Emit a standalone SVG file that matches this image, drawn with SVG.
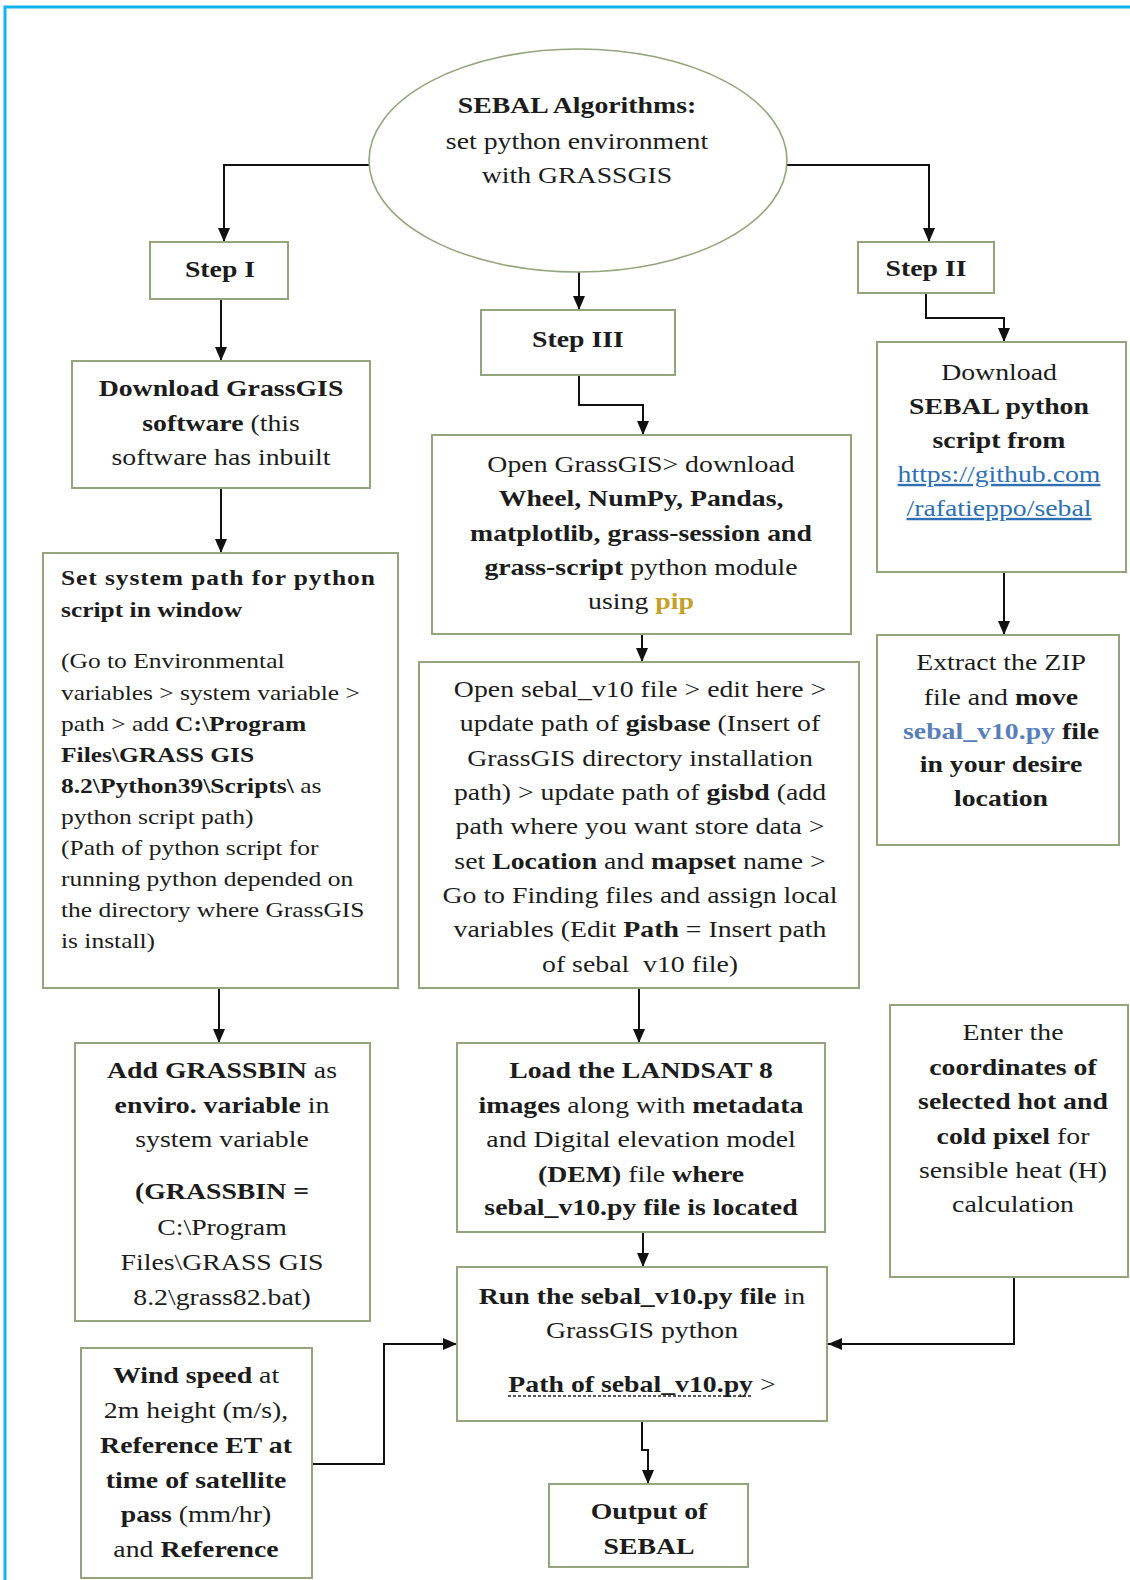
<svg xmlns="http://www.w3.org/2000/svg" width="1130" height="1580" viewBox="0 0 1130 1580">
<style>
.bx{fill:#ffffff;stroke:#93a57c;stroke-width:2}
.t{font-family:"Liberation Serif","Times New Roman",serif;font-size:24px;fill:#1c1c1c;text-anchor:middle}
.s{font-family:"Liberation Serif","Times New Roman",serif;font-size:22px;fill:#1c1c1c;text-anchor:start}
.b{font-weight:bold}
.c{fill:none;stroke:#111111;stroke-width:2}
.lnk{fill:#2f6fb3;text-decoration:underline}
</style>
<defs>
<marker id="ah" markerUnits="userSpaceOnUse" markerWidth="14" markerHeight="12" refX="14" refY="6" orient="auto">
<path d="M0,0 L14,6 L0,12 z" fill="#111111"/>
</marker>
</defs>
<rect x="0" y="0" width="1130" height="1580" fill="#ffffff"/>
<path d="M5,1580 V7 H1130" fill="none" stroke="#12b3ec" stroke-width="3"/>

<g id="connectors">
<path class="c" d="M369,165 H224 V242" marker-end="url(#ah)"/>
<path class="c" d="M787,165 H929 V242" marker-end="url(#ah)"/>
<path class="c" d="M579,272 V310" marker-end="url(#ah)"/>
<path class="c" d="M221,299 V361" marker-end="url(#ah)"/>
<path class="c" d="M579,375 V405 H643 V435" marker-end="url(#ah)"/>
<path class="c" d="M926,293 V318 H1004 V342" marker-end="url(#ah)"/>
<path class="c" d="M221,488 V553" marker-end="url(#ah)"/>
<path class="c" d="M642,634 V662" marker-end="url(#ah)"/>
<path class="c" d="M1004,572 V635" marker-end="url(#ah)"/>
<path class="c" d="M219,988 V1043" marker-end="url(#ah)"/>
<path class="c" d="M639,988 V1043" marker-end="url(#ah)"/>
<path class="c" d="M643,1232 V1267" marker-end="url(#ah)"/>
<path class="c" d="M642,1421 V1450 H648 V1484" marker-end="url(#ah)"/>
<path class="c" d="M312,1464 H384 V1344 H457" marker-end="url(#ah)"/>
<path class="c" d="M1014,1277 V1344 H828" marker-end="url(#ah)"/>
</g>

<g id="start">
<ellipse cx="578" cy="160.5" rx="209" ry="111.5" fill="#ffffff" stroke="#93a57c" stroke-width="1.6"/>
<g transform="translate(577,0) scale(1.158,1)">
<text class="t b" x="0" y="113">SEBAL Algorithms:</text>
<text class="t" x="0" y="149">set python environment</text>
<text class="t" x="0" y="183">with GRASSGIS</text>
</g>
</g>

<g id="step1">
<rect class="bx" x="150" y="242" width="138" height="57"/>
<g transform="translate(220,0) scale(1.158,1)"><text class="t b" x="0" y="277">Step I</text></g>
</g>

<g id="step2">
<rect class="bx" x="858" y="242" width="136" height="51"/>
<g transform="translate(926,0) scale(1.158,1)"><text class="t b" x="0" y="276">Step II</text></g>
</g>

<g id="step3">
<rect class="bx" x="481" y="310" width="194" height="65"/>
<g transform="translate(578,0) scale(1.158,1)"><text class="t b" x="0" y="347">Step III</text></g>
</g>

<g id="download-grassgis">
<rect class="bx" x="72" y="361" width="298" height="127"/>
<g transform="translate(221,0) scale(1.158,1)">
<text class="t b" x="0" y="396">Download GrassGIS</text>
<text class="t" x="0" y="431"><tspan class="b">software</tspan> (this</text>
<text class="t" x="0" y="465">software has inbuilt</text>
</g>
</g>

<g id="set-path">
<rect class="bx" x="43" y="553" width="355" height="435"/>
<g transform="translate(61,0) scale(1.158,1)">
<text class="s b" x="0" y="585" textLength="271" lengthAdjust="spacing">Set system path for python</text>
<text class="s b" x="0" y="617">script in window</text>
<text class="s" x="0" y="668">(Go to Environmental</text>
<text class="s" x="0" y="700">variables &gt; system variable &gt;</text>
<text class="s" x="0" y="731">path &gt; add <tspan class="b">C:\Program</tspan></text>
<text class="s b" x="0" y="762">Files\GRASS GIS</text>
<text class="s" x="0" y="793"><tspan class="b">8.2\Python39\Scripts\</tspan> as</text>
<text class="s" x="0" y="824">python script path)</text>
<text class="s" x="0" y="855">(Path of python script for</text>
<text class="s" x="0" y="886">running python depended on</text>
<text class="s" x="0" y="917">the directory where GrassGIS</text>
<text class="s" x="0" y="948">is install)</text>
</g>
</g>

<g id="grassbin">
<rect class="bx" x="75" y="1043" width="295" height="278"/>
<g transform="translate(222,0) scale(1.158,1)">
<text class="t" x="0" y="1078"><tspan class="b">Add GRASSBIN</tspan> as</text>
<text class="t" x="0" y="1113"><tspan class="b">enviro. variable</tspan> in</text>
<text class="t" x="0" y="1147">system variable</text>
<text class="t b" x="0" y="1199">(GRASSBIN =</text>
<text class="t" x="0" y="1235">C:\Program</text>
<text class="t" x="0" y="1270">Files\GRASS GIS</text>
<text class="t" x="0" y="1305">8.2\grass82.bat)</text>
</g>
</g>

<g id="wind">
<rect class="bx" x="81" y="1348" width="231" height="230"/>
<g transform="translate(196,0) scale(1.158,1)">
<text class="t" x="0" y="1383"><tspan class="b">Wind speed</tspan> at</text>
<text class="t" x="0" y="1418">2m height (m/s),</text>
<text class="t b" x="0" y="1453">Reference ET at</text>
<text class="t b" x="0" y="1488">time of satellite</text>
<text class="t" x="0" y="1522"><tspan class="b">pass</tspan> (mm/hr)</text>
<text class="t" x="0" y="1557">and <tspan class="b">Reference</tspan></text>
</g>
</g>

<g id="open-grassgis">
<rect class="bx" x="432" y="435" width="419" height="199"/>
<g transform="translate(641,0) scale(1.158,1)">
<text class="t" x="0" y="472">Open GrassGIS&gt; download</text>
<text class="t b" x="0" y="506">Wheel, NumPy, Pandas,</text>
<text class="t b" x="0" y="541">matplotlib, grass-session and</text>
<text class="t" x="0" y="575"><tspan class="b">grass-script</tspan> python module</text>
<text class="t" x="0" y="609">using <tspan class="b" fill="#c4a02c">pip</tspan></text>
</g>
</g>

<g id="open-sebal">
<rect class="bx" x="419" y="662" width="440" height="326"/>
<g transform="translate(640,0) scale(1.158,1)">
<text class="t" x="0" y="697">Open sebal_v10 file &gt; edit here &gt;</text>
<text class="t" x="0" y="731">update path of <tspan class="b">gisbase</tspan> (Insert of</text>
<text class="t" x="0" y="766">GrassGIS directory installation</text>
<text class="t" x="0" y="800">path) &gt; update path of <tspan class="b">gisbd</tspan> (add</text>
<text class="t" x="0" y="834">path where you want store data &gt;</text>
<text class="t" x="0" y="869">set <tspan class="b">Location</tspan> and <tspan class="b">mapset</tspan> name &gt;</text>
<text class="t" x="0" y="903">Go to Finding files and assign local</text>
<text class="t" x="0" y="937">variables (Edit <tspan class="b">Path</tspan> = Insert path</text>
<text class="t" x="0" y="972">of sebal&#160; v10 file)</text>
</g>
</g>

<g id="load">
<rect class="bx" x="457" y="1043" width="368" height="189"/>
<g transform="translate(641,0) scale(1.158,1)">
<text class="t b" x="0" y="1078">Load the LANDSAT 8</text>
<text class="t" x="0" y="1113"><tspan class="b">images</tspan> along with <tspan class="b">metadata</tspan></text>
<text class="t" x="0" y="1147">and Digital elevation model</text>
<text class="t" x="0" y="1182"><tspan class="b">(DEM)</tspan> file <tspan class="b">where</tspan></text>
<text class="t b" x="0" y="1215">sebal_v10.py file is located</text>
</g>
</g>

<g id="run">
<rect class="bx" x="457" y="1267" width="370" height="154"/>
<g transform="translate(642,0) scale(1.158,1)">
<text class="t" x="0" y="1304"><tspan class="b">Run the sebal_v10.py file</tspan> in</text>
<text class="t" x="0" y="1338">GrassGIS python</text>
<text class="t" x="0" y="1392"><tspan class="b">Path of sebal_v10.py</tspan> &gt;</text>
</g>
<line x1="508" y1="1396" x2="752" y2="1396" stroke="#222222" stroke-width="1.5" stroke-dasharray="3,2"/>
</g>

<g id="output">
<rect class="bx" x="549" y="1484" width="199" height="83"/>
<g transform="translate(649,0) scale(1.158,1)">
<text class="t b" x="0" y="1519">Output of</text>
<text class="t b" x="0" y="1554">SEBAL</text>
</g>
</g>

<g id="download-sebal">
<rect class="bx" x="877" y="342" width="249" height="230"/>
<g transform="translate(999,0) scale(1.158,1)">
<text class="t" x="0" y="380">Download</text>
<text class="t b" x="0" y="414">SEBAL python</text>
<text class="t b" x="0" y="448">script from</text>
<text class="t lnk" x="0" y="482">https://github.com</text>
<text class="t lnk" x="0" y="516">/rafatieppo/sebal</text>
</g>
</g>

<g id="extract">
<rect class="bx" x="877" y="635" width="242" height="210"/>
<g transform="translate(1001,0) scale(1.158,1)">
<text class="t" x="0" y="670">Extract the ZIP</text>
<text class="t" x="0" y="705">file and <tspan class="b">move</tspan></text>
<text class="t b" x="0" y="739"><tspan fill="#5a7fb8">sebal_v10.py</tspan> file</text>
<text class="t b" x="0" y="772">in your desire</text>
<text class="t b" x="0" y="806">location</text>
</g>
</g>

<g id="enter-coords">
<rect class="bx" x="890" y="1005" width="238" height="272"/>
<g transform="translate(1013,0) scale(1.158,1)">
<text class="t" x="0" y="1040">Enter the</text>
<text class="t b" x="0" y="1075">coordinates of</text>
<text class="t b" x="0" y="1109">selected hot and</text>
<text class="t" x="0" y="1144"><tspan class="b">cold pixel</tspan> for</text>
<text class="t" x="0" y="1178">sensible heat (H)</text>
<text class="t" x="0" y="1212">calculation</text>
</g>
</g>
</svg>
